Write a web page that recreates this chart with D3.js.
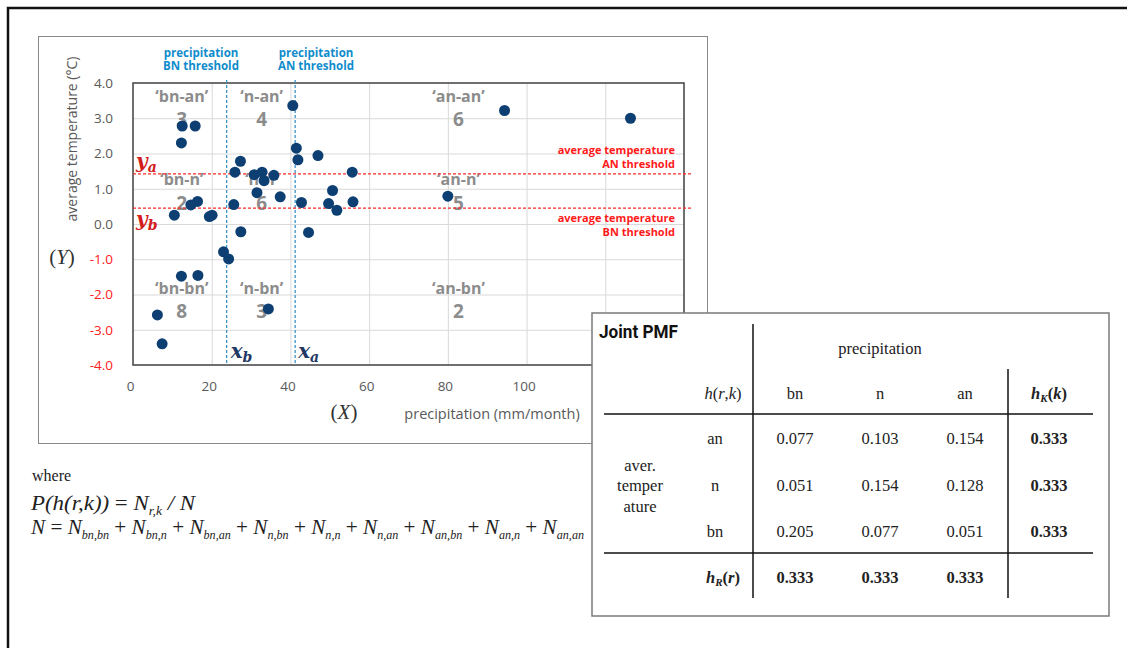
<!DOCTYPE html>
<html>
<head>
<meta charset="utf-8">
<script src="https://cdn.jsdelivr.net/npm/d3@7"></script>
<style>
body { margin: 0; background: #fff; }
</style>
</head>
<body>
<div id="chart"></div>
<script>
// values (39 months)
const precip = [40.6, 12.5, 15.8, 12.3, 41.5, 41.9, 47.0, 27.3, 25.9, 30.8, 32.8, 33.3, 35.8, 55.7,
    31.5, 37.4, 50.7, 49.7, 51.8, 55.9, 42.8, 25.6, 16.4, 14.7, 10.5, 19.4, 20.1,
    27.4, 44.6, 23.0, 24.3, 12.3, 16.5, 6.2, 34.4, 7.4, 94.4, 126.4, 80.0];
const temp = [3.36, 2.78, 2.78, 2.30, 2.15, 1.82, 1.94, 1.78, 1.47, 1.40, 1.47, 1.23, 1.38, 1.47,
    0.89, 0.77, 0.95, 0.58, 0.39, 0.63, 0.61, 0.55, 0.64, 0.54, 0.25, 0.21, 0.25,
    -0.22, -0.24, -0.79, -0.99, -1.48, -1.46, -2.58, -2.41, -3.40, 3.22, 3.00, 0.79];

// thresholds: [BN, AN]
const precipThresholds = [23.8, 41.2];
const tempThresholds = [0.45, 1.42];

const xTicks = [0, 20, 40, 60, 80, 100, 120, 140];
const yTicks = [4, 3, 2, 1, 0, -1, -2, -3, -4];

// region labels (terciles) and counts
const colNames = ["bn", "n", "an"];
const rowNames = ["an", "n", "bn"];
const regionCounts = [[3, 4, 6], [2, 6, 5], [8, 3, 2]];
// where the labels sit, in data units
const colLabelX = [12.4, 32.7, 82.7];
const rowNameY = [3.62, 1.27, -1.82];
const rowCountY = [2.98, 0.6, -2.49];

// joint PMF table
const pmfCols = ["bn", "n", "an"];
const pmfRows = ["an", "n", "bn"];
const pmfValues = [[0.077, 0.103, 0.154], [0.051, 0.154, 0.128], [0.205, 0.077, 0.051]];
const hK = [0.333, 0.333, 0.333];
const hR = [0.333, 0.333, 0.333];

const W = 1127, H = 648;
const svg = d3.select("#chart").append("svg")
    .attr("width", W)
    .attr("height", H)
    .style("font-family", "'Open Sans', 'Noto Sans', sans-serif");

svg.append("rect").attr("width", W).attr("height", H).attr("fill", "#fff");

// outer frame (runs off the right and bottom)
svg.append("rect")
    .attr("x", 8).attr("y", 8).attr("width", 1300).attr("height", 800)
    .attr("fill", "none").attr("stroke", "#111").attr("stroke-width", 2.5);

// chart frame
svg.append("rect")
    .attr("x", 38.5).attr("y", 36.5).attr("width", 669).attr("height", 407)
    .attr("fill", "#fff").attr("stroke", "#8a8a8a").attr("stroke-width", 1);

const plot = { left: 133, right: 684, top: 83, bottom: 365 };
const x = d3.scaleLinear().domain([0, 140]).range([plot.left, plot.right]);
const y = d3.scaleLinear().domain([-4, 4]).range([plot.bottom, plot.top]);

// gridlines
svg.append("g")
    .attr("transform", `translate(0,${plot.bottom})`)
    .call(d3.axisBottom(x).tickValues(xTicks.slice(1, -1)).tickSize(-(plot.bottom - plot.top)).tickFormat(""))
    .call(g => g.select(".domain").remove())
    .call(g => g.selectAll("line").attr("stroke", "#d9d9d9"));
svg.append("g")
    .attr("transform", `translate(${plot.left},0)`)
    .call(d3.axisLeft(y).tickValues(yTicks.slice(1, -1)).tickSize(-(plot.right - plot.left)).tickFormat(""))
    .call(g => g.select(".domain").remove())
    .call(g => g.selectAll("line").attr("stroke", "#d9d9d9"));

// tick labels
svg.append("g")
    .attr("transform", `translate(0,${plot.bottom})`)
    .call(d3.axisBottom(x).tickValues(xTicks).tickSize(0).tickPadding(16).tickFormat(d3.format("d")))
    .call(g => g.select(".domain").remove())
    .call(g => g.selectAll("text").attr("fill", "#595959").attr("font-size", 13.5)
        .attr("font-family", "'Open Sans', sans-serif").attr("dx", -3));
svg.append("g")
    .attr("transform", `translate(${plot.left},0)`)
    .call(d3.axisLeft(y).tickValues(yTicks).tickSize(0).tickPadding(20).tickFormat(d => d.toFixed(1)))
    .call(g => g.select(".domain").remove())
    .call(g => g.selectAll("text")
        .attr("fill", d => d < 0 ? "#ff2020" : "#595959")
        .attr("font-size", 13.5)
        .attr("font-family", "'Open Sans', sans-serif"));

// plot border
svg.append("rect")
    .attr("x", plot.left).attr("y", plot.top)
    .attr("width", plot.right - plot.left).attr("height", plot.bottom - plot.top)
    .attr("fill", "none").attr("stroke", "#404040").attr("stroke-width", 1.5);

// axis titles
svg.append("text")
    .attr("transform", "translate(77,139) rotate(-90)")
    .attr("text-anchor", "middle")
    .attr("font-size", 14).attr("fill", "#595959")
    .text("average temperature (\u00B0C)");
svg.append("text")
    .attr("x", 492).attr("y", 419)
    .attr("text-anchor", "middle")
    .attr("font-size", 14.5).attr("fill", "#595959")
    .text("precipitation  (mm/month)");
svg.append("text")
    .attr("x", 344).attr("y", 419)
    .attr("text-anchor", "middle")
    .attr("font-family", "'Liberation Serif', serif").attr("font-size", 21).attr("fill", "#333")
    .html("(<tspan font-style='italic'>X</tspan>)");
svg.append("text")
    .attr("x", 62).attr("y", 264)
    .attr("text-anchor", "middle")
    .attr("font-family", "'Liberation Serif', serif").attr("font-size", 21).attr("fill", "#333")
    .html("(<tspan font-style='italic'>Y</tspan>)");

// region labels
colNames.forEach((c, ci) => {
    rowNames.forEach((r, ri) => {
        svg.append("text")
            .attr("x", x(colLabelX[ci])).attr("y", y(rowNameY[ri]))
            .attr("dy", "0.35em").attr("text-anchor", "middle")
            .attr("font-size", 16).attr("font-weight", "bold").attr("fill", "#8c8c8c")
            .text(`\u2018${c}-${r}\u2019`);
        svg.append("text")
            .attr("x", x(colLabelX[ci])).attr("y", y(rowCountY[ri]))
            .attr("dy", "0.35em").attr("text-anchor", "middle")
            .attr("font-size", 19).attr("font-weight", "bold").attr("fill", "#8c8c8c")
            .text(regionCounts[ri][ci]);
    });
});

// threshold lines
svg.selectAll(".xthr")
    .data(precipThresholds)
    .join("line")
    .attr("x1", d => x(d)).attr("x2", d => x(d))
    .attr("y1", 80).attr("y2", plot.bottom)
    .attr("stroke", "#2b8cc4").attr("stroke-width", 1.2).attr("stroke-dasharray", "3,2");
svg.selectAll(".ythr")
    .data(tempThresholds)
    .join("line")
    .attr("x1", plot.left).attr("x2", 691)
    .attr("y1", d => y(d)).attr("y2", d => y(d))
    .attr("stroke", "#ff2a2a").attr("stroke-width", 1.2).attr("stroke-dasharray", "3,2");

// threshold captions
const blue = "#108ccc";
[["precipitation", "BN threshold"], ["precipitation", "AN threshold"]].forEach((lines, i) => {
    const cx = i === 0 ? 201 : 316;
    lines.forEach((t, j) => {
        svg.append("text")
            .attr("x", cx).attr("y", 57 + j * 13)
            .attr("text-anchor", "middle")
            .attr("font-size", 11.5).attr("font-weight", "bold").attr("fill", blue)
            .text(t);
    });
});
[["average temperature", "AN threshold"], ["average temperature", "BN threshold"]].forEach((lines, i) => {
    const top = i === 0 ? 154 : 222;
    lines.forEach((t, j) => {
        svg.append("text")
            .attr("x", 675).attr("y", top + j * 14)
            .attr("text-anchor", "end")
            .attr("font-size", 11).attr("font-weight", "bold").attr("fill", "#ff1a1a")
            .text(t);
    });
});

// y_a, y_b, x_b, x_a symbols
function sym(xp, yp, base, sub, color) {
    svg.append("text")
        .attr("x", xp).attr("y", yp)
        .attr("font-family", "'DejaVu Serif', serif").attr("font-style", "italic").attr("font-weight", "bold")
        .attr("font-size", 20).attr("fill", color)
        .html(`${base}<tspan font-size="14" dy="4">${sub}</tspan>`);
}
sym(136, 168, "y", "a", "#d41a1a");
sym(136, 226, "y", "b", "#d41a1a");
sym(x(precipThresholds[0]) + 4, 358, "x", "b", "#1f3864");
sym(x(precipThresholds[1]) + 3, 358, "x", "a", "#1f3864");

// the scatter
svg.append("g")
    .selectAll("circle")
    .data(precip.map((p, i) => [p, temp[i]]))
    .join("circle")
    .attr("cx", d => x(d[0]))
    .attr("cy", d => y(d[1]))
    .attr("r", 5.5)
    .attr("fill", "#0d3f73");

// formula under the chart
const serif = "'Liberation Serif', 'Times New Roman', serif";
svg.append("text")
    .attr("x", 32).attr("y", 481)
    .attr("font-family", serif).attr("font-size", 16).attr("fill", "#222")
    .text("where");
svg.append("text")
    .attr("x", 31).attr("y", 510)
    .attr("font-family", serif).attr("font-size", 22).attr("fill", "#222").attr("font-style", "italic")
    .attr("textLength", 164).attr("lengthAdjust", "spacingAndGlyphs")
    .html(`P(h(r,k)) <tspan font-style="normal">=</tspan> N<tspan font-size="13" dy="5">r,k</tspan><tspan dy="-5"> / N</tspan>`);
const sumTerms = ["bn,bn", "bn,n", "bn,an", "n,bn", "n,n", "n,an", "an,bn", "an,n", "an,an"];
const nLine = svg.append("text")
    .attr("x", 31).attr("y", 534)
    .attr("font-family", serif).attr("font-size", 21).attr("fill", "#222").attr("font-style", "italic")
    .attr("textLength", 553).attr("lengthAdjust", "spacingAndGlyphs");
nLine.append("tspan").text("N ");
nLine.append("tspan").attr("font-style", "normal").text("= ");
sumTerms.forEach((t, i) => {
    if (i > 0) nLine.append("tspan").attr("font-style", "normal").attr("dy", -5).text(" + ");
    nLine.append("tspan").text("N");
    nLine.append("tspan").attr("font-size", 12).attr("dy", 5).text(t);
});

// joint PMF table
const tb = { left: 592, top: 313, right: 1109, bottom: 616 };
svg.append("rect")
    .attr("x", tb.left).attr("y", tb.top)
    .attr("width", tb.right - tb.left).attr("height", tb.bottom - tb.top)
    .attr("fill", "#fff").attr("stroke", "#7a7a7a").attr("stroke-width", 1.5);
svg.append("text")
    .attr("x", 599).attr("y", 338)
    .attr("font-family", "'Liberation Sans Narrow', 'Roboto', sans-serif").attr("font-weight", "bold")
    .attr("font-size", 19).attr("fill", "#111")
    .attr("textLength", 79).attr("lengthAdjust", "spacingAndGlyphs")
    .text("Joint PMF");

const colX = [795, 880, 965];
const hkX = 1049, rowLblX = 723;
const rowY = [438, 485, 531];
const lineStyle = s => s.attr("stroke", "#111").attr("stroke-width", 1.5);
svg.append("line").attr("x1", 753).attr("x2", 753).attr("y1", 324).attr("y2", 598).call(lineStyle);
svg.append("line").attr("x1", 1008).attr("x2", 1008).attr("y1", 369).attr("y2", 598).call(lineStyle);
svg.append("line").attr("x1", 604).attr("x2", 1093).attr("y1", 414).attr("y2", 414).call(lineStyle);
svg.append("line").attr("x1", 604).attr("x2", 1093).attr("y1", 553).attr("y2", 553).call(lineStyle);

function cell(xp, yp, t, opts = {}) {
    const el = svg.append("text")
        .attr("x", xp).attr("y", yp).attr("dy", "0.35em")
        .attr("text-anchor", "middle")
        .attr("font-family", serif).attr("font-size", 16.5).attr("fill", "#222");
    if (opts.bold) el.attr("font-weight", "bold");
    if (opts.html) el.html(t); else el.text(t);
    return el;
}
cell(880, 348, "precipitation");
cell(rowLblX, 393, `<tspan font-style="italic">h</tspan>(<tspan font-style="italic">r</tspan>,<tspan font-style="italic">k</tspan>)`, { html: true });
pmfCols.forEach((c, i) => cell(colX[i], 393, c));
cell(hkX, 393, `<tspan font-style="italic">h</tspan><tspan font-size="11" dy="3" font-style="italic">K</tspan><tspan dy="-3">(</tspan><tspan font-style="italic">k</tspan>)`, { html: true, bold: true });
pmfRows.forEach((r, ri) => {
    cell(715, rowY[ri], r);
    pmfValues[ri].forEach((v, ci) => cell(colX[ci], rowY[ri], d3.format(".3f")(v)));
    cell(hkX, rowY[ri], d3.format(".3f")(hK[ri]), { bold: true });
});
["aver.", "temper", "ature"].forEach((t, i) => cell(640, 465 + i * 20.5, t));
cell(rowLblX, 577, `<tspan font-style="italic">h</tspan><tspan font-size="11" dy="3" font-style="italic">R</tspan><tspan dy="-3">(</tspan><tspan font-style="italic">r</tspan>)`, { html: true, bold: true });
hR.forEach((v, i) => cell(colX[i], 577, d3.format(".3f")(v), { bold: true }));
</script>
</body>
</html>
